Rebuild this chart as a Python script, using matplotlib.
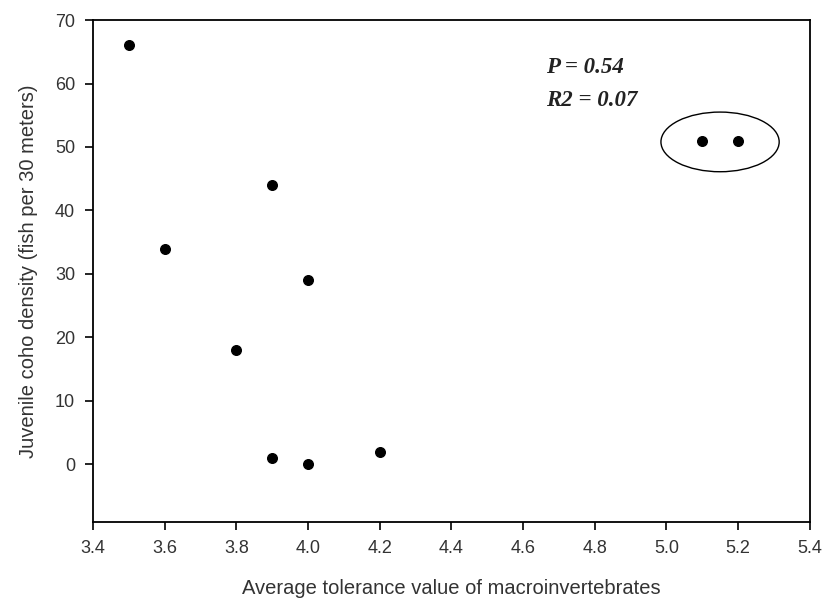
import matplotlib
matplotlib.use("Agg")
import matplotlib.pyplot as plt
from matplotlib.patches import Ellipse

# Macroinvertebrate tolerance vs juvenile coho density
tolerance = [3.5, 3.6, 3.8, 3.9, 3.9, 4.0, 4.0, 4.2, 5.1, 5.2]
coho_density = [66, 34, 18, 44, 1, 29, 0, 2, 51, 51]

x_ticks = [3.4, 3.6, 3.8, 4.0, 4.2, 4.4, 4.6, 4.8, 5.0, 5.2, 5.4]
y_ticks = [0, 10, 20, 30, 40, 50, 60, 70]

stats_lines = ["P = 0.54", "R2 = 0.07"]

plt.rcParams["font.family"] = ["Liberation Sans", "DejaVu Sans"]

fig = plt.figure(figsize=(8.27, 6.08), dpi=100)
ax = fig.add_axes([0.1125, 0.1414, 0.8665, 0.8256])

ax.scatter(tolerance, coho_density, s=48, color="black", zorder=3)

ax.set_xlim(3.4, 5.4)
ax.set_ylim(-9.1, 70)
ax.set_xticks(x_ticks)
ax.set_xticklabels([f"{v:.1f}" for v in x_ticks])
ax.set_yticks(y_ticks)

ax.tick_params(direction="out", length=6, width=1.2, labelsize=13,
               labelcolor="#333333", top=False, right=False, pad=7)
for side in ax.spines.values():
    side.set_linewidth(1.3)

ax.set_xlabel("Average tolerance value of macroinvertebrates", fontsize=14.5,
              color="#333333", labelpad=16)
ax.set_ylabel("Juvenile coho density (fish per 30 meters)", fontsize=14.5,
              color="#333333", labelpad=12)

# Ellipse highlighting the two high-tolerance sites
ax.add_patch(Ellipse((5.15, 50.8), width=0.33, height=9.4, fill=False,
                     edgecolor="black", linewidth=1.0))

for i, line in enumerate(stats_lines):
    ax.text(4.665, 62.5 - i * 5.2, line, fontsize=16.5, fontweight="bold",
            fontstyle="italic", family="Liberation Serif", color="#222222",
            va="center", ha="left")

fig.savefig("out.png", dpi=100)
